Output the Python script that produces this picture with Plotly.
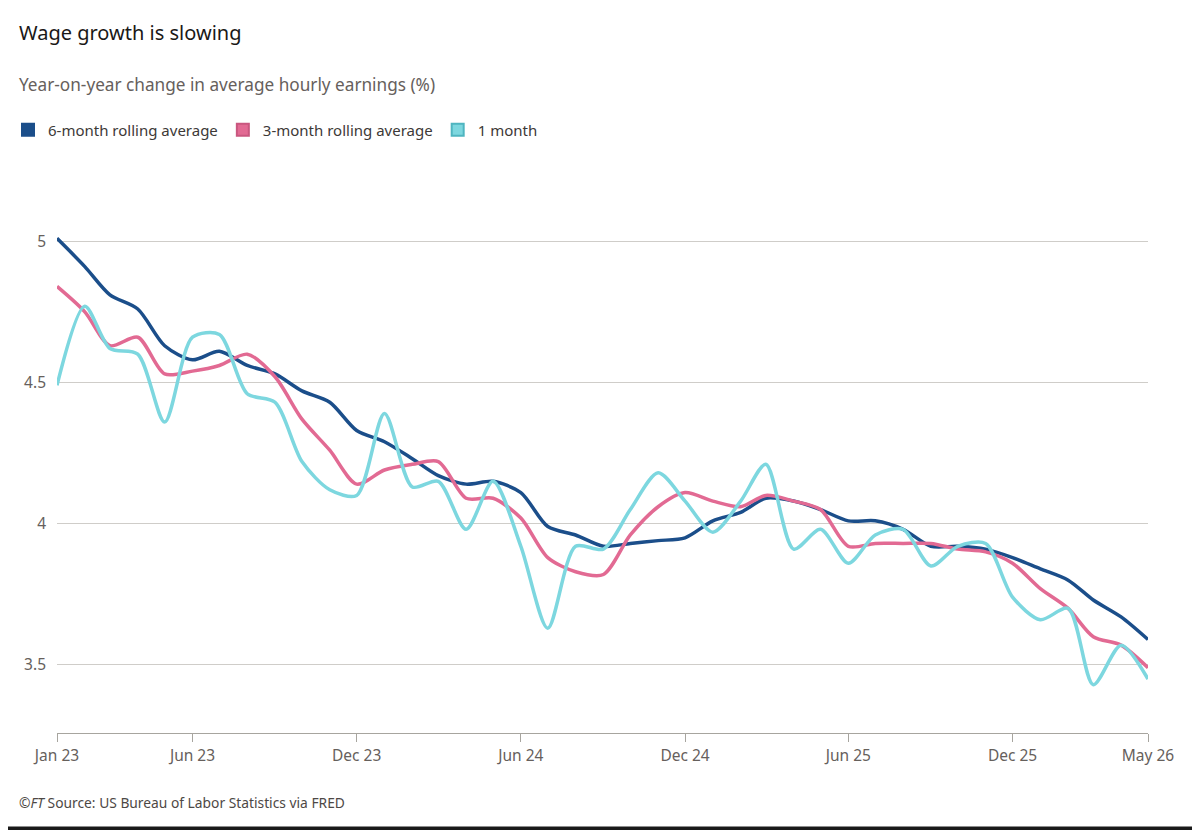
import pandas as pd
import plotly.graph_objects as go

# monthly observations, Jan 2023 .. May 2026
months = pd.date_range("2023-01-01", "2026-05-01", freq="MS")

six_month = [5.01, 4.91, 4.81, 4.76, 4.63, 4.58, 4.61, 4.56, 4.53, 4.47, 4.43, 4.33,
             4.29, 4.23, 4.17, 4.14, 4.15, 4.11, 3.99, 3.96, 3.92, 3.93, 3.94, 3.95,
             4.01, 4.04, 4.09, 4.08, 4.05, 4.01, 4.01, 3.98, 3.92, 3.92, 3.91, 3.88,
             3.84, 3.80, 3.73, 3.67, 3.59]
three_month = [4.84, 4.75, 4.63, 4.66, 4.53, 4.54, 4.56, 4.60, 4.52, 4.37, 4.26, 4.14,
               4.19, 4.21, 4.22, 4.09, 4.09, 4.02, 3.88, 3.83, 3.82, 3.96, 4.06, 4.11,
               4.08, 4.06, 4.10, 4.08, 4.05, 3.92, 3.93, 3.93, 3.93, 3.91, 3.90, 3.86,
               3.77, 3.70, 3.60, 3.57, 3.49]
one_month = [4.49, 4.77, 4.62, 4.60, 4.36, 4.66, 4.67, 4.46, 4.43, 4.22, 4.12, 4.10,
             4.39, 4.13, 4.15, 3.98, 4.15, 3.92, 3.63, 3.92, 3.91, 4.05, 4.18, 4.08,
             3.97, 4.08, 4.21, 3.91, 3.98, 3.86, 3.96, 3.98, 3.85, 3.92, 3.93, 3.74,
             3.66, 3.70, 3.43, 3.57, 3.45]

tick_dates = ["2023-01-01", "2023-06-01", "2023-12-01", "2024-06-01",
              "2024-12-01", "2025-06-01", "2025-12-01", "2026-05-01"]
tick_text = ["Jan 23", "Jun 23", "Dec 23", "Jun 24", "Dec 24", "Jun 25", "Dec 25", "May 26"]

series = [
    ("6-month rolling average", six_month, "#1b4e8a", "#1b4e8a"),
    ("3-month rolling average", three_month, "#e26a93", "#c9577f"),
    ("1 month", one_month, "#7dd7df", "#4fb5c0"),
]

fig = go.Figure()
for name, vals, col, edge in series:
    fig.add_trace(go.Scatter(x=months, y=vals, mode="lines", name=name,
                             line=dict(color=col, width=3.5, shape="spline", smoothing=0.8),
                             showlegend=False, hoverinfo="x+y"))
for name, vals, col, edge in series:
    # legend swatch only
    fig.add_trace(go.Scatter(x=[None], y=[None], mode="markers", name=name,
                             marker=dict(symbol="square", size=13, color=col,
                                         line=dict(color=edge, width=1))))

grey = "#66605c"
# page body adds an 8px offset, so margins are trimmed by 8 on the top/left
fig.update_layout(
    width=1200, height=830,
    paper_bgcolor="white", plot_bgcolor="white",
    margin=dict(l=49, r=60, t=162, b=105),
    font=dict(family="Noto Sans, Lato, sans-serif", color=grey, size=15),
    showlegend=True,
    legend=dict(orientation="h", xref="container", yref="container",
                x=-0.0025, xanchor="left", y=1 - 122 / 830, yanchor="middle",
                font=dict(size=15, color="#3d3937"), itemsizing="constant",
                traceorder="normal", bgcolor="rgba(0,0,0,0)"),
    xaxis=dict(range=[months[0], months[-1]], tickvals=tick_dates, ticktext=tick_text,
               showgrid=False, showline=True, linecolor="#a7a59f", linewidth=1.3,
               ticks="outside", ticklen=8, tickcolor="#a7a59f", tickwidth=1.3,
               tickfont=dict(size=15.5, color=grey), zeroline=False, automargin=False),
    yaxis=dict(range=[3.259, 5.252], tickvals=[3.5, 4, 4.5, 5],
               ticktext=["3.5", "4", "4.5", "5"],
               showgrid=True, gridcolor="#cfcdc9", gridwidth=1.2,
               showline=False, zeroline=False, ticks="", automargin=False,
               tickfont=dict(size=15.5, color=grey), ticklabelstandoff=10),
    annotations=[
        dict(text="Wage growth is slowing", xref="paper", yref="paper", x=0, y=1,
             xanchor="left", yanchor="middle", xshift=-40, yshift=138, showarrow=False,
             font=dict(size=20, color="#1a1817")),
        dict(text="Year-on-year change in average hourly earnings (%)", xref="paper",
             yref="paper", x=0, y=1, xanchor="left", yanchor="middle", xshift=-40,
             yshift=86, showarrow=False, font=dict(size=17.2, color=grey)),
        dict(text="©<i>FT</i> Source: US Bureau of Labor Statistics via FRED", xref="paper",
             yref="paper", x=0, y=0, xanchor="left", yanchor="middle", xshift=-40,
             yshift=-69, showarrow=False, font=dict(size=13.8, color="#4d4845")),
    ],
    shapes=[
        dict(type="rect", xref="paper", yref="paper", x0=-0.06, x1=1.06,
             y0=-0.1723, y1=-0.166, fillcolor="#1a1a1a", line=dict(width=0)),
    ],
)

fig.write_html("out.html")
